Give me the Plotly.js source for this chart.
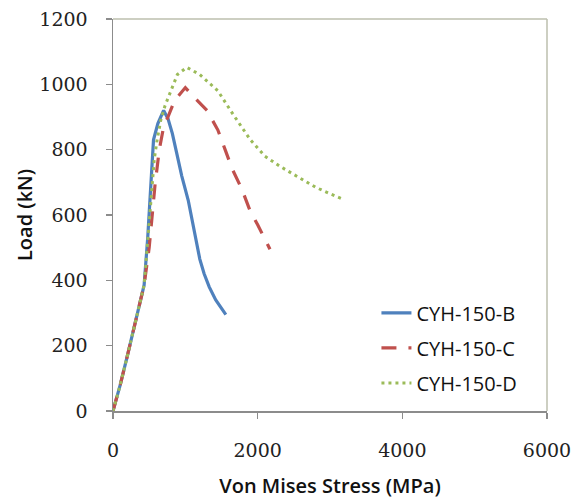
<!DOCTYPE html>
<html>
<head>
<meta charset="utf-8">
<script src="https://cdn.plot.ly/plotly-3.0.1.min.js"></script>
<style>html,body{margin:0;padding:0;background:#fff;}#chart{width:583px;height:502px;}</style>
</head>
<body>
<div id="chart"></div>
<script>
// CYH-150-B
const bStress = [0, 100, 200, 300, 430, 480, 520, 560, 620, 700, 760, 820, 880, 950, 1040, 1120, 1200, 1260, 1330, 1420, 1500, 1560];
const bLoad   = [0, 80, 170, 260, 385, 530, 700, 830, 880, 920, 895, 850, 790, 720, 645, 555, 465, 420, 380, 340, 315, 295];
// CYH-150-C
const cStress = [0, 100, 200, 300, 430, 500, 540, 580, 640, 700, 760, 850, 1000, 1100, 1300, 1450, 1550, 1650, 1780, 1900, 2000, 2170];
const cLoad   = [0, 80, 170, 260, 385, 500, 610, 690, 800, 870, 900, 950, 990, 965, 920, 860, 800, 740, 680, 610, 570, 495];
// CYH-150-D
const dStress = [0, 100, 200, 300, 430, 480, 530, 570, 610, 660, 720, 820, 890, 1020, 1200, 1450, 1660, 1900, 2100, 2300, 2550, 2800, 3000, 3180];
const dLoad   = [0, 80, 170, 260, 385, 520, 660, 770, 830, 890, 935, 990, 1030, 1052, 1030, 980, 908, 830, 780, 750, 718, 685, 665, 648];

const seriesNames = ['CYH-150-B', 'CYH-150-C', 'CYH-150-D'];
const xTicks = [0, 2000, 4000, 6000];
const yTicks = [0, 200, 400, 600, 800, 1000, 1200];
const xTitle = 'Von Mises Stress (MPa)';
const yTitle = 'Load (kN)';

const traces = [
  {x: bStress, y: bLoad, name: seriesNames[0], legendgroup: 'b', mode: 'lines',
   line: {color: '#4F81BD', width: 3.2}},
  {x: cStress, y: cLoad, name: seriesNames[1], legendgroup: 'c', mode: 'lines',
   line: {color: '#C0504D', width: 3.2, dash: '15px,12px'}},
  {x: dStress, y: dLoad, name: seriesNames[2], legendgroup: 'd', mode: 'lines',
   line: {color: '#9BBB59', width: 3, dash: '3px,4px'}}
];

const tickFont = {family: '"DejaVu Serif", "Liberation Serif", serif', size: 19, color: '#222'};
const titleFont = {family: '"Open Sans", "Liberation Sans", sans-serif', size: 20, color: '#111', weight: 600};

const layout = {
  width: 583, height: 502,
  margin: {l: 113, r: 36, t: 19, b: 91},
  paper_bgcolor: '#ffffff', plot_bgcolor: '#ffffff',
  showlegend: true,
  legend: {
    x: 0.607, y: 0.30, xanchor: 'left', yanchor: 'top',
    traceorder: 'grouped', tracegroupgap: 6,
    bgcolor: 'rgba(0,0,0,0)',
    font: {family: '"Open Sans", "Liberation Sans", sans-serif', size: 20, color: '#111'}
  },
  xaxis: {
    range: [0, 6000], tickvals: xTicks, ticktext: xTicks.map(String),
    showgrid: false, zeroline: false,
    showline: true, linecolor: '#8c8c8c', linewidth: 1.5,
    ticks: 'outside', ticklen: 6, tickcolor: '#8c8c8c', tickwidth: 1.5,
    tickfont: tickFont, ticklabelstandoff: 16,
    title: {text: xTitle, font: titleFont, standoff: 18}
  },
  yaxis: {
    range: [0, 1200], tickvals: yTicks, ticktext: yTicks.map(String),
    showgrid: false, zeroline: false,
    showline: true, linecolor: '#8c8c8c', linewidth: 1.5,
    ticks: 'outside', ticklen: 6, tickcolor: '#8c8c8c', tickwidth: 1.5,
    tickfont: tickFont, ticklabelstandoff: 14
  },
  annotations: [
    {text: yTitle, xref: 'paper', yref: 'paper', x: -0.205, y: 0.5, xanchor: 'center', yanchor: 'middle',
     textangle: -90, showarrow: false, font: titleFont}
  ],
  shapes: [
    {type: 'line', xref: 'paper', yref: 'paper', x0: 0, x1: 1, y0: 1, y1: 1,
     line: {color: '#bdbfae', width: 1.5}},
    {type: 'line', xref: 'paper', yref: 'paper', x0: 1, x1: 1, y0: 0, y1: 1,
     line: {color: '#bdbfae', width: 1.5}}
  ]
};

Plotly.newPlot('chart', traces, layout, {displayModeBar: false, staticPlot: true});
</script>
</body>
</html>
